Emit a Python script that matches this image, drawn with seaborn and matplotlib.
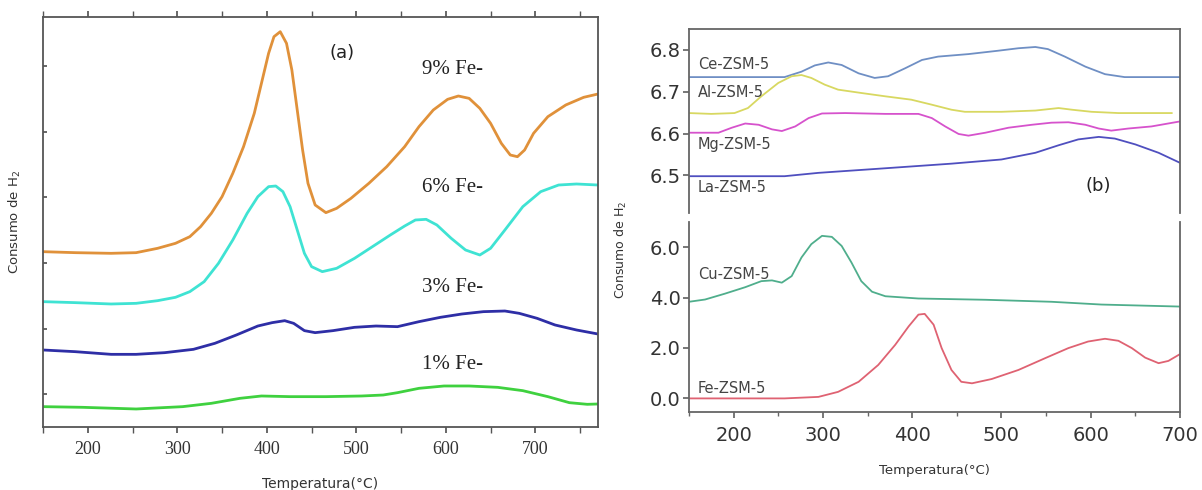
import numpy as np
import pandas as pd
import matplotlib
matplotlib.use("Agg")
import matplotlib.pyplot as plt
import seaborn as sns

# ---------------- Panel (a) data (arbitrary units) ----------------
a9_x = [150, 186, 226, 254, 278, 298, 314, 326, 338, 350, 362, 374, 386, 394, 402, 408, 415, 422, 428, 434, 440, 446, 454, 466, 478, 494, 514, 534, 554, 570, 586, 602, 614, 626, 638, 650, 662, 672, 680, 688, 698, 714, 734, 754, 770]
a9_y = [42.76, 42.52, 42.36, 42.52, 43.58, 44.80, 46.42, 48.86, 52.11, 56.18, 61.87, 68.37, 76.50, 83.82, 91.14, 95.20, 96.42, 93.58, 87.07, 77.32, 67.56, 59.43, 54.15, 52.28, 53.33, 55.77, 59.43, 63.50, 68.37, 73.25, 77.32, 79.92, 80.73, 80.16, 77.72, 74.07, 69.19, 66.34, 65.93, 67.56, 71.63, 75.69, 78.54, 80.41, 81.22]

a6_x = [150, 186, 226, 254, 278, 298, 314, 330, 346, 362, 378, 390, 402, 410, 418, 426, 434, 442, 450, 462, 478, 498, 518, 538, 554, 566, 578, 590, 606, 622, 638, 650, 666, 686, 706, 726, 746, 770]
a6_y = [30.57, 30.33, 30.00, 30.16, 30.81, 31.63, 33.01, 35.45, 39.92, 45.61, 52.11, 56.18, 58.62, 58.78, 57.40, 53.74, 48.05, 42.36, 39.11, 37.89, 38.70, 41.14, 43.98, 46.83, 49.02, 50.49, 50.65, 49.27, 46.02, 43.17, 41.95, 43.58, 48.05, 53.74, 57.40, 59.02, 59.27, 59.02]

a3_x = [150, 186, 226, 254, 286, 318, 342, 366, 390, 406, 420, 430, 442, 454, 474, 498, 522, 546, 570, 594, 618, 642, 666, 682, 702, 722, 746, 770]
a3_y = [18.78, 18.37, 17.72, 17.72, 18.13, 18.94, 20.41, 22.44, 24.63, 25.45, 25.93, 25.28, 23.50, 23.01, 23.50, 24.31, 24.63, 24.47, 25.69, 26.75, 27.56, 28.13, 28.29, 27.72, 26.50, 24.88, 23.66, 22.68]

a1_x = [150, 194, 254, 306, 338, 370, 394, 426, 466, 506, 530, 546, 570, 598, 626, 658, 686, 714, 738, 758, 770]
a1_y = [4.96, 4.80, 4.39, 4.96, 5.77, 6.99, 7.56, 7.40, 7.40, 7.56, 7.80, 8.37, 9.43, 10.00, 10.00, 9.67, 8.86, 7.40, 5.93, 5.53, 5.61]

a_labels = ["9% Fe-", "6% Fe-", "3% Fe-", "1% Fe-"]
a_label_y = [87.2, 58.4, 34.0, 15.3]

# ---------------- Panel (b) data ----------------
ce_x = [150, 257, 276, 291, 306, 321, 340, 358, 373, 392, 411, 429, 463, 496, 519, 538, 552, 571, 594, 616, 638, 700]
ce_y = [6.735, 6.735, 6.748, 6.763, 6.770, 6.764, 6.744, 6.733, 6.737, 6.756, 6.776, 6.784, 6.790, 6.798, 6.804, 6.807, 6.802, 6.784, 6.760, 6.742, 6.735, 6.735]

al_x = [150, 175, 201, 216, 231, 250, 265, 276, 287, 302, 317, 343, 370, 399, 422, 444, 459, 500, 538, 564, 579, 601, 631, 691]
al_y = [6.649, 6.647, 6.649, 6.661, 6.689, 6.721, 6.737, 6.740, 6.733, 6.717, 6.705, 6.697, 6.689, 6.681, 6.669, 6.657, 6.652, 6.652, 6.655, 6.661, 6.657, 6.652, 6.649, 6.649]

mg_x = [150, 183, 198, 213, 228, 243, 254, 269, 284, 299, 325, 370, 407, 422, 437, 452, 463, 482, 508, 534, 556, 575, 594, 609, 623, 642, 668, 700]
mg_y = [6.602, 6.602, 6.614, 6.624, 6.621, 6.610, 6.606, 6.617, 6.637, 6.648, 6.649, 6.647, 6.647, 6.637, 6.617, 6.599, 6.595, 6.602, 6.614, 6.621, 6.626, 6.627, 6.621, 6.612, 6.607, 6.612, 6.617, 6.629]

la_x = [150, 257, 295, 370, 444, 500, 538, 564, 586, 609, 627, 650, 676, 700]
la_y = [6.498, 6.498, 6.506, 6.517, 6.528, 6.538, 6.554, 6.572, 6.586, 6.592, 6.588, 6.574, 6.554, 6.530]

cu_x = [150, 168, 190, 213, 231, 243, 254, 265, 276, 287, 299, 310, 321, 332, 343, 355, 370, 407, 482, 556, 612, 700]
cu_y = [3.83, 3.92, 4.15, 4.41, 4.65, 4.68, 4.59, 4.85, 5.59, 6.12, 6.45, 6.41, 6.05, 5.39, 4.65, 4.23, 4.05, 3.96, 3.91, 3.83, 3.72, 3.64]

fe_x = [150, 257, 295, 317, 340, 362, 381, 396, 407, 414, 424, 433, 444, 455, 467, 489, 519, 549, 575, 597, 616, 631, 646, 661, 676, 687, 700]
fe_y = [-0.01, -0.01, 0.05, 0.25, 0.65, 1.32, 2.12, 2.85, 3.32, 3.35, 2.92, 1.99, 1.12, 0.65, 0.59, 0.76, 1.12, 1.59, 1.99, 2.25, 2.36, 2.28, 1.99, 1.61, 1.39, 1.48, 1.75]

b_upper_labels = ["Ce-ZSM-5", "Al-ZSM-5", "Mg-ZSM-5", "La-ZSM-5"]
b_upper_label_y = [6.766, 6.697, 6.574, 6.471]
b_lower_labels = ["Cu-ZSM-5", "Fe-ZSM-5"]
b_lower_label_y = [4.92, 0.39]

upper_ticks = [6.5, 6.6, 6.7, 6.8]
lower_ticks = [0.0, 2.0, 4.0, 6.0]
lower_tick_labels = ["0.0", "2.0", "4.0", "6.0"]
x_ticks_a = [200, 300, 400, 500, 600, 700]
x_ticks_b = [200, 300, 400, 500, 600, 700]

# ---------------- styling ----------------
sns.set_theme(style="ticks")
plt.rcParams["font.family"] = ["DejaVu Sans"]
plt.rcParams["lines.solid_joinstyle"] = "round"
plt.rcParams["lines.solid_capstyle"] = "round"
spine_c = "#555555"
text_c = "#333333"

fig = plt.figure(figsize=(12.02, 4.90), dpi=100)
ax_a = fig.add_axes([0.0358, 0.1286, 0.4617, 0.8367])
ax_bu = fig.add_axes([0.5732, 0.5653, 0.4085, 0.3755])
ax_bl = fig.add_axes([0.5732, 0.1592, 0.4085, 0.3877])

def df(x, y):
    return pd.DataFrame({"x": x, "y": y})

# Panel (a)
a_series = [(a9_x, a9_y, "#e0913a"), (a6_x, a6_y, "#3fe3d3"),
            (a3_x, a3_y, "#2e2ea6"), (a1_x, a1_y, "#3fd13f")]
for xs, ys, c in a_series:
    sns.lineplot(data=df(xs, ys), x="x", y="y", ax=ax_a, color=c, lw=2.0)
ax_a.set_xlim(150, 770)
ax_a.set_ylim(0, 100)
ax_a.set_xticks(x_ticks_a)
ax_a.set_xticks(np.arange(150, 771, 50), minor=True)
ax_a.set_xticklabels([str(t) for t in x_ticks_a], family="Liberation Serif", fontsize=13, color=text_c)
ax_a.set_yticks([8, 24, 40, 56, 72, 88])
ax_a.set_yticklabels([])
ax_a.tick_params(axis="x", which="both", direction="out", length=4, color=spine_c, top=True, pad=6)
ax_a.tick_params(axis="y", direction="in", length=3, color=spine_c)
ax_a.set_xlabel("Temperatura(°C)", fontsize=10, color=text_c, labelpad=14)
ax_a.set_ylabel("Consumo de H$_2$", fontsize=9.5, color=text_c, labelpad=11)
for s in ax_a.spines.values():
    s.set_color(spine_c)
    s.set_linewidth(1.3)
ax_a.text(484, 91.1, "(a)", fontsize=13, color="#222222", ha="center", va="center")
for lab, yy in zip(a_labels, a_label_y):
    ax_a.text(608, yy, lab, family="Liberation Serif", fontsize=15, color="#222222",
              ha="center", va="center")

# Panel (b) upper
b_up = [(ce_x, ce_y, "#6f8fc4"), (al_x, al_y, "#d8d861"),
        (mg_x, mg_y, "#d652cc"), (la_x, la_y, "#4f4fbf")]
for xs, ys, c in b_up:
    sns.lineplot(data=df(xs, ys), x="x", y="y", ax=ax_bu, color=c, lw=1.3)
ax_bu.set_xlim(150, 700)
ax_bu.set_ylim(6.41, 6.85)
ax_bu.set_yticks(upper_ticks)
ax_bu.set_yticklabels([f"{t:.1f}" for t in upper_ticks], fontsize=14, color=text_c)
ax_bu.set_xticks([])
ax_bu.spines["bottom"].set_visible(False)
ax_bu.set_xlabel("")
ax_bu.set_ylabel("")
for lab, yy in zip(b_upper_labels, b_upper_label_y):
    ax_bu.text(160, yy, lab, fontsize=10.5, color="#444444", ha="left", va="center")
ax_bu.text(608, 6.475, "(b)", fontsize=13, color="#222222", ha="center", va="center")

# Panel (b) lower
b_lo = [(cu_x, cu_y, "#4fae8c"), (fe_x, fe_y, "#df6272")]
for xs, ys, c in b_lo:
    sns.lineplot(data=df(xs, ys), x="x", y="y", ax=ax_bl, color=c, lw=1.3)
ax_bl.set_xlim(150, 700)
ax_bl.set_ylim(-0.55, 7.0)
ax_bl.set_yticks(lower_ticks)
ax_bl.set_yticklabels(lower_tick_labels, fontsize=14, color=text_c)
ax_bl.set_xticks(x_ticks_b)
ax_bl.set_xticks(np.arange(150, 701, 50), minor=True)
ax_bl.set_xticklabels([str(t) for t in x_ticks_b], fontsize=14, color=text_c)
ax_bl.spines["top"].set_visible(False)
ax_bl.set_xlabel("Temperatura(°C)", fontsize=9.5, color=text_c, labelpad=14)
ax_bl.set_ylabel("")
for lab, yy in zip(b_lower_labels, b_lower_label_y):
    ax_bl.text(160, yy, lab, fontsize=10.5, color="#444444", ha="left", va="center")

for ax in (ax_bu, ax_bl):
    for s in ax.spines.values():
        s.set_color("#666666")
        s.set_linewidth(1.3)
    ax.tick_params(axis="both", which="both", direction="out", length=4, color="#666666", pad=2)
    ax.tick_params(axis="x", which="minor", length=3)
ax_bl.tick_params(axis="x", which="major", pad=6)

fig.text(0.517, 0.49, "Consumo de H$_2$", rotation=90, fontsize=9, color=text_c,
         ha="center", va="center")

fig.savefig("out.png", dpi=100)
